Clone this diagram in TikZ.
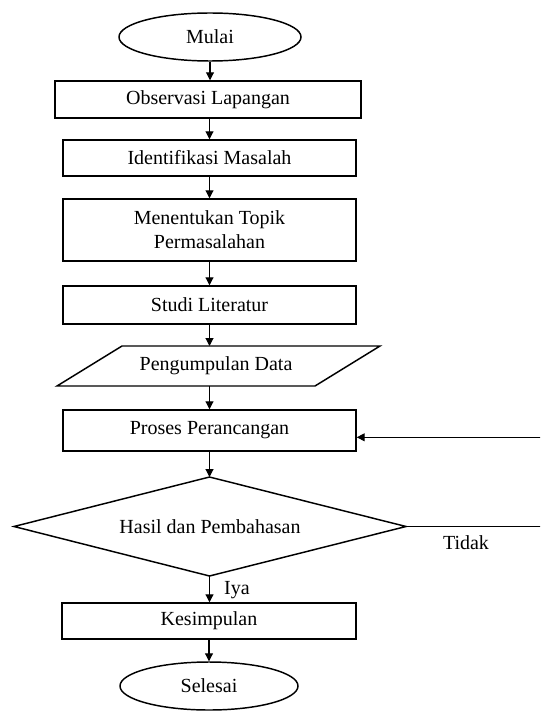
\documentclass[tikz,border=0pt]{standalone}
\usepackage{fontspec}
\setmainfont{Liberation Serif}
\usetikzlibrary{shapes.geometric,arrows.meta,calc}
\begin{document}
\begin{tikzpicture}[x=0.75pt,y=-0.75pt,
  every node/.style={font=\fontsize{15pt}{18pt}\selectfont},
  procbox/.style={draw,line width=1.1pt,rectangle,inner sep=0pt,align=center},
  termin/.style={draw,line width=1.1pt,ellipse,inner sep=0pt},
  flow/.style={line width=0.8pt,-{Triangle[length=6pt,width=6pt]}},
  lbl/.style={inner sep=0pt}]
\useasboundingbox (0,0) rectangle (540,713);
\node[termin,minimum width=136.5pt,minimum height=36pt] (mulai) at (210,37) {Mulai};
\node[procbox,minimum width=229.5pt,minimum height=27.75pt] (obs) at (208,99.5) {Observasi Lapangan};
\node[procbox,minimum width=219.75pt,minimum height=27pt] (idf) at (209.5,158) {Identifikasi Masalah};
\node[procbox,minimum width=219.75pt,minimum height=46.5pt] (topik) at (209.5,230) {Menentukan Topik\\Permasalahan};
\node[procbox,minimum width=219.75pt,minimum height=28.5pt] (studi) at (209.5,305) {Studi Literatur};
% parallelogram (data)
\draw[line width=1.1pt] (57,386) -- (122,346) -- (380,346) -- (315,386) -- cycle;
\node[lbl] (data) at (216,366) {Pengumpulan Data};
\coordinate (datatop) at (209.5,346);
\coordinate (databot) at (209.5,386);
\node[procbox,minimum width=219.75pt,minimum height=30.75pt] (proses) at (209.5,430.5) {Proses Perancangan};
% decision diamond
\coordinate (hN) at (209.5,477);
\coordinate (hS) at (209.5,576);
\coordinate (hW) at (14,526.5);
\coordinate (hE) at (406,526.5);
\draw[line width=1.1pt] (hN) -- (hE) -- (hS) -- (hW) -- cycle;
\node[lbl] (hasil) at (210,526.5) {Hasil dan Pembahasan};
\node[procbox,minimum width=220.5pt,minimum height=27pt] (kes) at (209,621) {Kesimpulan};
\node[termin,minimum width=133.5pt,minimum height=36pt] (selesai) at (209,686) {Selesai};
\node[lbl] (tidak) at (466,543) {Tidak};
\node[lbl] (iya) at (237,590) {Iya};
% connectors
\draw[flow] (mulai.south) -- (mulai.south |- obs.north);
\draw[flow] (obs.south -| idf.north) -- (idf.north);
\draw[flow] (idf.south) -- (topik.north);
\draw[flow] (topik.south) -- (studi.north);
\draw[flow] (studi.south) -- (datatop);
\draw[flow] (databot) -- (proses.north);
\draw[flow] (proses.south) -- (hN);
\draw[flow] (hS) -- (hS |- kes.north);
\draw[flow] (kes.south) -- (kes.south |- selesai.north);
\begin{scope}
\clip (0,0) rectangle (540,713);
\coordinate (loopin) at ($(proses.south east)!0.34!(proses.north east)$);
\draw[flow] (hE) -- (546,526.5) |- (loopin);
\end{scope}
\end{tikzpicture}
\end{document}
